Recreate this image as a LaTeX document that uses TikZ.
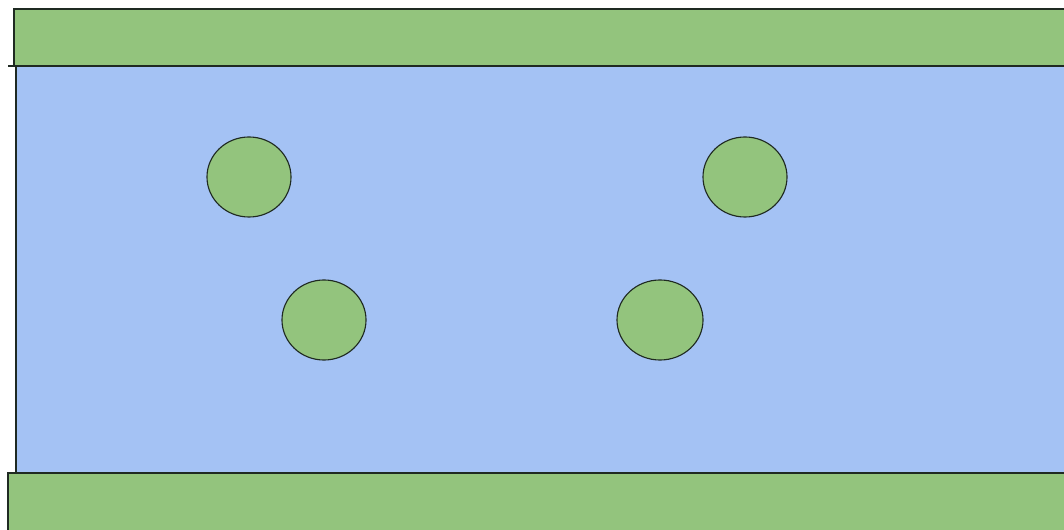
\documentclass[tikz,border=0pt]{standalone}
\usepackage{tikz}
\usetikzlibrary{shapes.geometric}
\definecolor{PlateGreen}{HTML}{93C47D}
\definecolor{ChannelBlue}{HTML}{A4C2F4}
\definecolor{EdgeDark}{HTML}{1F2A22}

\begin{document}
\begin{tikzpicture}[x=0.025cm, y=-0.025cm,
				plate/.style={draw=EdgeDark, fill=PlateGreen, line width=0.8pt},
				channel/.style={draw=EdgeDark, fill=ChannelBlue, line width=0.8pt},
				blob/.style={ellipse, draw=EdgeDark, fill=PlateGreen, line width=0.8pt,
					minimum width=2.1cm, minimum height=2cm, inner sep=0pt}
				]
				\useasboundingbox (0,0) rectangle (1064,530);
				\clip (0,0) rectangle (1064,530);
				\draw[channel] (16,66) rectangle (1075,473);
				\draw[plate] (14,9) rectangle (1075,66);
				\draw[plate] (8,473) rectangle (1075,540);
				\draw[EdgeDark, line width=0.8pt] (8,66) -- (16,66);
				\node[blob] (b1) at (249,177) {};
				\node[blob] (b2) at (745,177) {};
				\node[blob] (b3) at (324,320) {};
				\node[blob, minimum width=2.15cm] (b4) at (660,320) {};
			\end{tikzpicture}
\end{document}
